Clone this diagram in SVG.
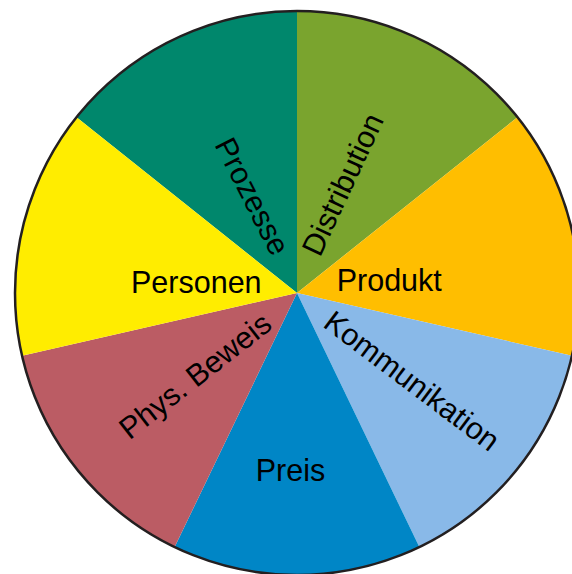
<svg xmlns="http://www.w3.org/2000/svg" width="572" height="574" viewBox="0 0 572 574">
<style>
text{font-family:"Liberation Sans",Arial,Helvetica,sans-serif;font-size:30.5px;fill:#000}
.c{text-anchor:middle}
</style>
<rect width="572" height="574" fill="#fff"/>
<g id="prozesse">
<path d="M297,293 L76.52,117.18 A282,282 0 0 1 297,11 Z" fill="#00876c"/>
<text class="c" transform="translate(251,197) rotate(63)" y="9">Prozesse</text>
</g>
<g id="distribution">
<path d="M297,293 L297,11 A282,282 0 0 1 517.48,117.18 Z" fill="#7aa42e"/>
<text class="c" transform="translate(344,185) rotate(-65)" y="9">Distribution</text>
</g>
<g id="produkt">
<path d="M297,293 L517.48,117.18 A282,282 0 0 1 571.93,355.75 Z" fill="#ffbe00"/>
<text x="336.7" y="290.5">Produkt</text>
</g>
<g id="kommunikation">
<path d="M297,293 L571.93,355.75 A282,282 0 0 1 419.35,547.07 Z" fill="#89b9e8"/>
<text class="c" transform="translate(411,382) rotate(37)" y="9">Kommunikation</text>
</g>
<g id="preis">
<path d="M297,293 L419.35,547.07 A282,282 0 0 1 174.65,547.07 Z" fill="#0086c6"/>
<text x="255.7" y="480.5">Preis</text>
</g>
<g id="phys-beweis">
<path d="M297,293 L174.65,547.07 A282,282 0 0 1 22.07,355.75 Z" fill="#bb5c64"/>
<text class="c" transform="translate(196,377) rotate(-38)" y="9">Phys. Beweis</text>
</g>
<g id="personen">
<path d="M297,293 L22.07,355.75 A282,282 0 0 1 76.52,117.18 Z" fill="#ffed00"/>
<text x="131" y="292.5">Personen</text>
</g>
<circle cx="297" cy="293" r="282" fill="none" stroke="#231f20" stroke-width="2.5"/>
</svg>
